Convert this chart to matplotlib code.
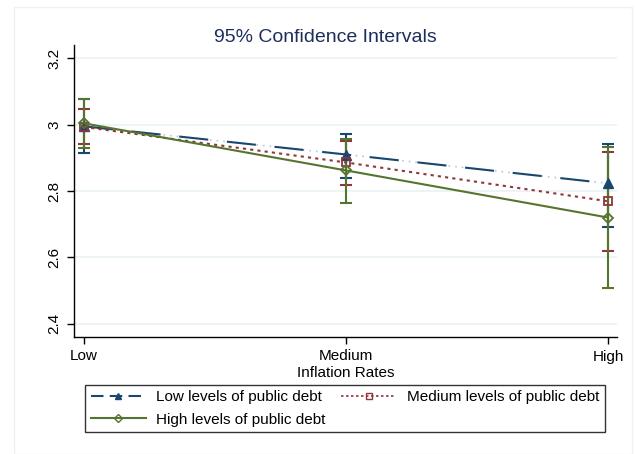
import matplotlib
matplotlib.use("Agg")
import matplotlib.pyplot as plt
from matplotlib.patches import Rectangle
from matplotlib.lines import Line2D

plt.rcParams['font.family'] = ['Liberation Sans', 'DejaVu Sans']

categories = ["Low", "Medium", "High"]
series_names = ["Low levels of public debt", "Medium levels of public debt", "High levels of public debt"]

low_mean = [2.995, 2.910, 2.823]
low_lo = [2.914, 2.838, 2.691]
low_hi = [3.076, 2.973, 2.943]

med_mean = [2.993, 2.886, 2.769]
med_lo = [2.943, 2.817, 2.619]
med_hi = [3.048, 2.952, 2.919]

high_mean = [3.004, 2.862, 2.720]
high_lo = [2.930, 2.763, 2.508]
high_hi = [3.076, 2.958, 2.934]

yticks = [2.4, 2.6, 2.8, 3.0, 3.2]
ytick_labels = ["2.4", "2.6", "2.8", "3", "3.2"]

navy = '#1a476f'
maroon = '#90353b'
green = '#55752f'

fig = plt.figure(figsize=(6.35, 4.54), dpi=100)
fig.patch.set_facecolor('white')
fig.add_artist(Rectangle((14/635, 0), (632-14)/635, 1 - 7/454, transform=fig.transFigure,
                         fill=False, edgecolor='#eef0f2', linewidth=1))

ax = fig.add_axes([74/635, 1 - 337/454, (617-74)/635, (337-45)/454])
x = list(range(len(categories)))

ax.set_xlim(-0.038, 2.034)
ax.set_ylim(2.36, 3.24)

for yt in yticks:
    ax.axhline(yt, color='#eaf2f3', lw=1.2, zorder=0)

def ci(xs, lo, hi, color, z):
    for xi, l, h in zip(xs, lo, hi):
        ax.plot([xi, xi], [l, h], color=color, lw=1.5, zorder=z, solid_capstyle='butt')
        ax.plot([xi - 0.022, xi + 0.022], [l, l], color=color, lw=1.5, zorder=z, solid_capstyle='butt')
        ax.plot([xi - 0.022, xi + 0.022], [h, h], color=color, lw=1.5, zorder=z, solid_capstyle='butt')

ci(x, low_lo, low_hi, navy, 2)
ci(x, med_lo, med_hi, maroon, 3)
ci(x, high_lo, high_hi, green, 4)

# Low series: light dotted underlay + long dashes
ax.plot(x, low_mean, color='#b9c9da', lw=1.2, ls=(0, (1, 3)), zorder=5)
ax.plot(x, low_mean, color=navy, lw=1.5, ls=(0, (14, 9)), zorder=5)
ax.plot(x, low_mean, color=navy, lw=0, marker='^', ms=7, zorder=6)
ax.plot(x, med_mean, color=maroon, lw=1.5, ls=(0, (1.5, 2)), marker='s', ms=6,
        mfc='none', mec=maroon, mew=1.3, zorder=7)
ax.plot(x, high_mean, color=green, lw=1.5, ls='-', marker='D', ms=5.5,
        mfc='none', mec=green, mew=1.3, zorder=8)

ax.set_xticks(x)
ax.set_xticklabels(categories, fontsize=11)
ax.set_yticks(yticks)
ax.set_yticklabels(ytick_labels, fontsize=11, rotation=90, va='center')
ax.tick_params(axis='both', length=5, width=1, color='black', pad=4)
for s in ['top', 'right']:
    ax.spines[s].set_visible(False)
for s in ['left', 'bottom']:
    ax.spines[s].set_color('black')
    ax.spines[s].set_linewidth(1)
ax.set_xlabel("Inflation Rates", fontsize=11, labelpad=2)
fig.text(325/635, 1 - 37/454, "95% Confidence Intervals", ha='center', va='center',
         fontsize=14, color='#1e2e5c')

h_low = Line2D([], [], color=navy, lw=1.5, ls=(0, (6, 3)), marker='^', ms=5)
h_med = Line2D([], [], color=maroon, lw=1.2, ls=(0, (1.5, 1.5)), marker='s', ms=5, mfc='none', mec=maroon)
h_high = Line2D([], [], color=green, lw=1.5, marker='D', ms=4.5, mfc='none', mec=green)
# Row-wise fill: matplotlib fills by column, so order Low, High | Medium
handles = [h_low, h_high, h_med]
labels = [series_names[0], series_names[2], series_names[1]]
leg = fig.legend(handles, labels, loc='center', ncol=2,
                 bbox_to_anchor=((78 + 612) / 2 / 635, 1 - 408.5/454),
                 fontsize=11, frameon=True, fancybox=False, edgecolor='black',
                 handlelength=3.6, columnspacing=1.0, handletextpad=0.7,
                 borderpad=0.35, labelspacing=0.55)
leg.get_frame().set_linewidth(1)

fig.savefig("out.png", dpi=100, facecolor='white')
